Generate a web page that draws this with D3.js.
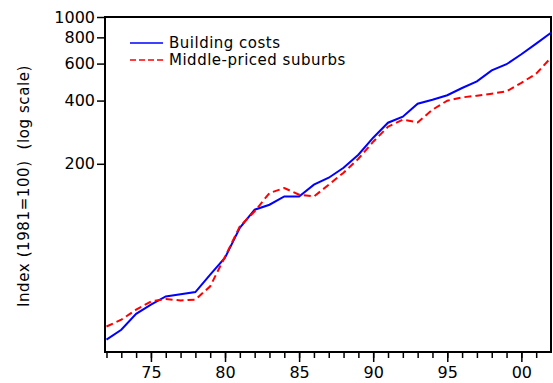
<!DOCTYPE html>
<html lang="en">
<head>
<meta charset="UTF-8">
<script src="https://d3js.org/d3.v7.min.js"></script>
<style>
  body { margin: 0; background: #fff; }
  text { font-family: "DejaVu Sans", Verdana, sans-serif; fill: #000; }
</style>
</head>
<body>
<div id="chart"></div>
<script>
// data
const years = d3.range(1972, 2003);
const buildingCosts = [29.1, 32.4, 38.6, 42.7, 46.7, 47.9, 49.0, 59.3, 71.4, 99.2,
  120.9, 127.7, 139.8, 139.8, 159.0, 171.7, 191.6, 220.9, 266.2, 313.8,
  335.1, 386.5, 403.9, 424.3, 459.0, 493.6, 556.8, 595.8, 665.0, 746.3, 841.8];
const middleSuburbs = [33.6, 36.2, 40.4, 44.2, 45.4, 44.7, 45.1, 52.2, 72.2, 100.7,
  118.7, 145.2, 153.4, 142.5, 139.8, 159.0, 181.4, 211.4, 254.8, 300.3,
  324.3, 314.8, 361.9, 399.5, 414.2, 422.0, 431.4, 442.2, 486.0, 537.0, 640.0];
const yTicks = [200, 400, 600, 800, 1000];
const xMajor = [1975, 1980, 1985, 1990, 1995, 2000];
const xMinor = d3.range(1972, 2002);
const seriesNames = ["Building costs", "Middle-priced suburbs"];

const width = 553, height = 383;
const margin = { top: 17, right: 2, bottom: 31, left: 105 };

const svg = d3.select("#chart").append("svg")
  .attr("width", width)
  .attr("height", height);

const x = d3.scaleLinear()
  .domain([1971.9, 2002])
  .range([margin.left, width - margin.right]);

const y = d3.scaleLog()
  .domain([25.4, 1000])
  .range([height - margin.bottom, margin.top]);

// y axis
const yAxis = svg.append("g")
  .attr("transform", `translate(${margin.left},0)`)
  .call(d3.axisLeft(y).tickValues(yTicks).tickFormat(d3.format("d")).tickSize(8).tickPadding(2));
yAxis.select(".domain").remove();
yAxis.selectAll("line").attr("stroke-width", 1.5);
yAxis.selectAll("text").style("font-size", "16px");

// x axis minor ticks
const xMin = svg.append("g")
  .attr("transform", `translate(0,${height - margin.bottom})`)
  .call(d3.axisBottom(x).tickValues(xMinor).tickFormat("").tickSize(6));
xMin.select(".domain").remove();
xMin.selectAll("line").attr("stroke-width", 1.5);

// x axis major ticks
const xAx = svg.append("g")
  .attr("transform", `translate(0,${height - margin.bottom})`)
  .call(d3.axisBottom(x).tickValues(xMajor)
    .tickFormat(d => String(d % 100).padStart(2, "0")).tickSize(10).tickPadding(5));
xAx.select(".domain").remove();
xAx.selectAll("line").attr("stroke-width", 1.5);
xAx.selectAll("text").style("font-size", "16px");

// frame
svg.append("rect")
  .attr("x", margin.left)
  .attr("y", margin.top)
  .attr("width", width - margin.right - margin.left)
  .attr("height", height - margin.bottom - margin.top)
  .attr("fill", "none")
  .attr("stroke", "#000")
  .attr("stroke-width", 2);

// y title
svg.append("text")
  .attr("transform", "translate(28.5,186) rotate(-90)")
  .attr("text-anchor", "middle")
  .style("font-size", "15px")
  .style("letter-spacing", "0.6px")
  .attr("xml:space", "preserve")
  .text("Index (1981=100)  (log scale)");

const line = d3.line()
  .x((d, i) => x(years[i]))
  .y(d => y(d));

svg.append("path")
  .datum(buildingCosts)
  .attr("d", line)
  .attr("fill", "none")
  .attr("stroke", "#0000ff")
  .attr("stroke-width", 2);

svg.append("path")
  .datum(middleSuburbs)
  .attr("d", line)
  .attr("fill", "none")
  .attr("stroke", "#ff0000")
  .attr("stroke-width", 2)
  .attr("stroke-dasharray", "7,4");

// legend
const legend = svg.append("g").attr("transform", "translate(130,43)");
const styles = [{ color: "#0000ff", dash: null }, { color: "#ff0000", dash: "6,3" }];
seriesNames.forEach((name, i) => {
  legend.append("line")
    .attr("x1", 0).attr("x2", 33)
    .attr("y1", i * 17).attr("y2", i * 17)
    .attr("stroke", styles[i].color)
    .attr("stroke-width", 1.5)
    .attr("stroke-dasharray", styles[i].dash);
  legend.append("text")
    .attr("x", 39)
    .attr("y", i * 17 + 5)
    .style("font-size", "15px")
    .style("letter-spacing", "0.5px")
    .text(name);
});
</script>
</body>
</html>
